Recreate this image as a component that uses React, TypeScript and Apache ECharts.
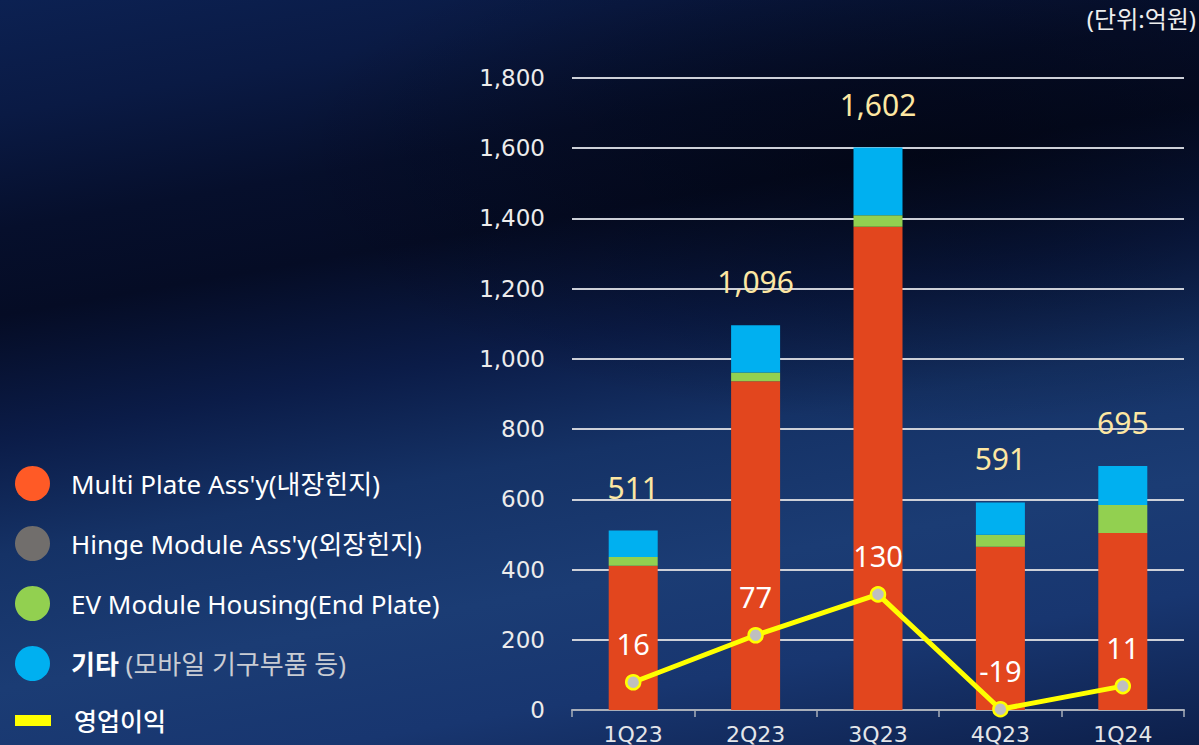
import React, { useEffect, useRef } from "react";
import * as echarts from "echarts";

const categories = ["1Q23", "2Q23", "3Q23", "4Q23", "1Q24"];
const multiPlate = [411, 936, 1376, 465, 504];
const hingeModule = [0, 0, 0, 0, 0];
const evModule = [25, 25, 33, 34, 80];
const others = [75, 135, 193, 92, 111];
const totals = [511, 1096, 1602, 591, 695];
const operatingProfit = [16, 77, 130, -19, 11];
const yTicks = [0, 200, 400, 600, 800, 1000, 1200, 1400, 1600, 1800];

const FONT = "'Noto Sans', 'Noto Sans CJK KR', sans-serif";
const AXIS_FONT = "'DejaVu Sans', 'Noto Sans', sans-serif";

export default function App() {
  const ref = useRef<HTMLDivElement>(null);
  useEffect(() => {
    if (!ref.current) return;
    const chart = echarts.init(ref.current, null, { renderer: "svg" });
    chart.setOption({
      animation: false,
      backgroundColor: "transparent",
      textStyle: { fontFamily: FONT },
      title: {
        text: "(단위:억원)",
        right: 3,
        top: 4,
        padding: 0,
        textStyle: { color: "#eeeeee", fontSize: 24, lineHeight: 28, fontWeight: "normal", fontFamily: FONT },
      },
      legend: [
        {
          orient: "vertical",
          left: 15,
          top: 466,
          padding: 0,
          itemWidth: 35,
          itemHeight: 35,
          itemGap: 25,
          icon: "circle",
          data: [
            { name: "Multi Plate Ass'y(내장힌지)", itemStyle: { color: "#ff5a26" } },
            "Hinge Module Ass'y(외장힌지)",
            "EV Module Housing(End Plate)",
            "기타",
          ],
          formatter: (name: string) =>
            name === "기타" ? "{b|기타} {g|(모바일 기구부품 등)}" : name,
          textStyle: {
            color: "#ffffff",
            fontSize: 26,
            fontFamily: FONT,
            padding: [0, 0, 0, 16],
            rich: {
              b: { color: "#ffffff", fontSize: 26, fontWeight: "bold", fontFamily: FONT },
              g: { color: "#c9ccd3", fontSize: 26, fontFamily: FONT },
            },
          },
        },
        {
          orient: "vertical",
          left: 15,
          top: 708,
          padding: 0,
          itemWidth: 36,
          itemHeight: 11,
          icon: "rect",
          data: [{ name: "영업이익", itemStyle: { color: "#ffff00", borderWidth: 0 } }],
          textStyle: {
            color: "#ffffff",
            fontSize: 25,
            fontWeight: 500,
            fontFamily: FONT,
            padding: [0, 0, 0, 18],
          },
        },
      ],
      grid: { left: 572, right: 15, top: 78, bottom: 35, containLabel: false },
      xAxis: {
        type: "category",
        data: categories,
        axisLine: { lineStyle: { color: "#a9afba", width: 2 } },
        axisTick: { show: true, length: 7, lineStyle: { color: "#a9afba", width: 1.5 } },
        axisLabel: { color: "#e4e6ea", fontSize: 22, margin: 13, fontFamily: AXIS_FONT },
      },
      yAxis: [
        {
          type: "value",
          min: yTicks[0],
          max: yTicks[yTicks.length - 1],
          interval: yTicks[1] - yTicks[0],
          axisLine: { show: false },
          axisTick: { show: false },
          axisLabel: {
            color: "#ececec",
            fontSize: 23,
            margin: 27,
            fontFamily: AXIS_FONT,
            formatter: (v: number) => v.toLocaleString("en-US"),
          },
          splitLine: { lineStyle: { color: "#cdd0d8", width: 2 } },
        },
        {
          type: "value",
          min: -20,
          max: 800,
          show: false,
          splitLine: { show: false },
        },
      ],
      series: [
        {
          name: "Multi Plate Ass'y(내장힌지)",
          type: "bar",
          stack: "sales",
          barWidth: 49,
          data: multiPlate,
          itemStyle: { color: "#e2461e" },
        },
        {
          name: "Hinge Module Ass'y(외장힌지)",
          type: "bar",
          stack: "sales",
          data: hingeModule,
          itemStyle: { color: "#716e6c" },
        },
        {
          name: "EV Module Housing(End Plate)",
          type: "bar",
          stack: "sales",
          data: evModule,
          itemStyle: { color: "#92d050" },
        },
        {
          name: "기타",
          type: "bar",
          stack: "sales",
          data: others,
          itemStyle: { color: "#00b0f0" },
        },
        {
          name: "합계",
          type: "line",
          data: totals,
          symbol: "circle",
          symbolSize: 1,
          showSymbol: true,
          itemStyle: { color: "rgba(0,0,0,0)" },
          lineStyle: { width: 0, opacity: 0 },
          silent: true,
          label: {
            show: true,
            position: "top",
            distance: 28,
            color: "#fde7a2",
            fontSize: 30,
            lineHeight: 30,
            fontFamily: FONT,
            formatter: (p: any) => Number(p.value).toLocaleString("en-US"),
          },
          z: 5,
        },
        {
          name: "영업이익",
          type: "line",
          yAxisIndex: 1,
          data: operatingProfit,
          symbol: "circle",
          symbolSize: 14,
          lineStyle: { color: "#ffff00", width: 5 },
          itemStyle: { color: "#bfbfbf", borderColor: "#ffff00", borderWidth: 2.5 },
          label: {
            show: true,
            position: "top",
            distance: 16,
            color: "#ffffff",
            fontSize: 29,
            lineHeight: 29,
            fontFamily: FONT,
          },
          z: 10,
        },
      ],
    });
    return () => chart.dispose();
  }, []);

  return (
    <div
      style={{
        position: "fixed",
        left: 0,
        top: 0,
        width: 1199,
        height: 745,
        background:
          "radial-gradient(ellipse 650px 260px at 78% 22%, rgba(0,2,10,0.55), rgba(0,2,10,0) 100%), linear-gradient(170deg, #0c2152 0%, #0a1a44 12%, #060f2c 24%, #050c25 33%, #0b1c48 46%, #153266 58%, #1b3c74 72%, #183670 84%, #0d1f4a 100%)",
      }}
    >
      <div ref={ref} style={{ width: 1199, height: 745 }} />
    </div>
  );
}
